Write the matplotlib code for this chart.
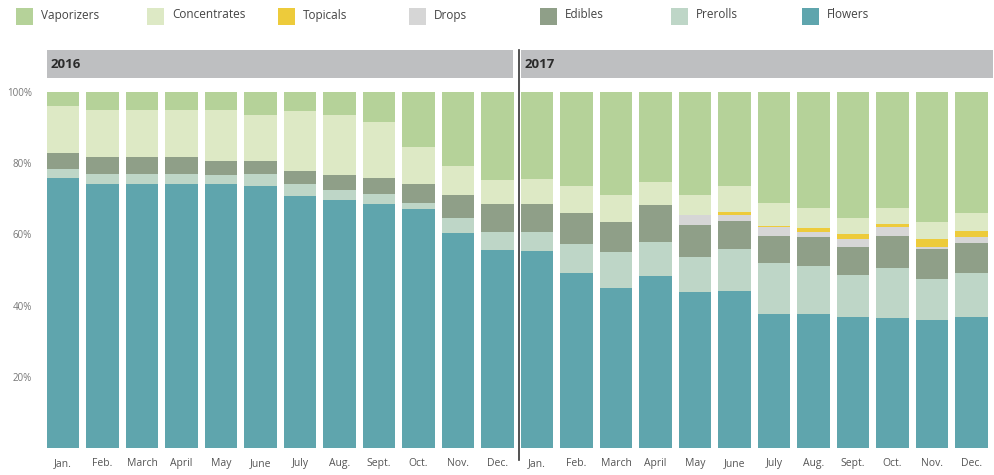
import matplotlib
matplotlib.use("Agg")
import matplotlib.pyplot as plt
from matplotlib.patches import Rectangle
import numpy as np

plt.rcParams['font.family'] = ['Open Sans', 'DejaVu Sans']

months = ["Jan.", "Feb.", "March", "April", "May", "June", "July", "Aug.",
          "Sept.", "Oct.", "Nov.", "Dec."]
labels = months + months
years = ["2016", "2017"]

# share of sales per month (%), 2016 then 2017
flowers = [75.9, 74.3, 74.3, 74.3, 74.2, 73.6, 70.9, 69.7, 68.5, 67.1, 60.3, 55.6,
           55.4, 49.1, 44.9, 48.4, 43.9, 44.2, 37.6, 37.6, 36.9, 36.4, 36.0, 36.9]
prerolls = [2.5, 2.6, 2.6, 2.6, 2.5, 3.3, 3.2, 2.8, 2.8, 1.6, 4.4, 5.2,
            5.2, 8.2, 10.2, 9.5, 9.8, 11.7, 14.3, 13.5, 11.7, 14.1, 11.4, 12.2]
edibles = [4.5, 4.8, 4.8, 4.8, 3.9, 3.7, 3.7, 4.2, 4.6, 5.4, 6.4, 7.7,
           7.9, 8.6, 8.5, 10.4, 8.9, 7.9, 7.7, 8.1, 7.9, 9.1, 8.4, 8.6]
drops = [0, 0, 0, 0, 0, 0, 0, 0, 0, 0, 0, 0,
         0, 0, 0, 0, 2.8, 1.6, 2.6, 1.6, 2.1, 2.6, 0.7, 1.7]
topicals = [0, 0, 0, 0, 0, 0, 0, 0, 0, 0, 0, 0,
            0, 0, 0, 0, 0, 1.0, 0.2, 1.1, 1.4, 0.7, 2.1, 1.5]
concentrates = [13.3, 13.2, 13.2, 13.2, 14.3, 12.9, 16.9, 16.8, 15.6, 10.5, 8.1, 6.8,
                7.0, 7.7, 7.5, 6.5, 5.7, 7.2, 6.3, 5.4, 4.5, 4.4, 5.0, 5.2]
vaporizers = [3.8, 5.1, 5.1, 5.1, 5.1, 6.5, 5.3, 6.5, 8.5, 15.4, 20.8, 24.7,
              24.5, 26.4, 28.9, 25.2, 28.9, 26.4, 31.3, 32.7, 35.5, 32.7, 36.4, 33.9]

# bottom to top
series = [("Flowers", flowers, "#5fa5ad"),
          ("Prerolls", prerolls, "#bed6c7"),
          ("Edibles", edibles, "#8f9f88"),
          ("Drops", drops, "#d6d6d6"),
          ("Topicals", topicals, "#edcb3b"),
          ("Concentrates", concentrates, "#dde9c5"),
          ("Vaporizers", vaporizers, "#b5d299")]
legend_order = ["Vaporizers", "Concentrates", "Topicals", "Drops",
                "Edibles", "Prerolls", "Flowers"]

fig = plt.figure(figsize=(9.95, 4.75), dpi=100)
ax = fig.add_axes([0.0435, 0.0568, 0.9528, 0.7495])

x = np.arange(len(labels))
bottom = np.zeros(len(labels))
for name, vals, col in series:
    vals = np.array(vals, dtype=float)
    ax.bar(x, vals, bottom=bottom, width=0.82, color=col, linewidth=0)
    bottom += vals

ax.set_xlim(-0.5, len(labels) - 0.5)
ax.set_ylim(0, 100)
ax.set_xticks(x)
ax.set_xticklabels(labels, fontsize=7.5, color="#555555")
ax.set_yticks([20, 40, 60, 80, 100])
ax.set_yticklabels(["20%", "40%", "60%", "80%", "100%"], fontsize=7, color="#777777")
ax.tick_params(length=0, pad=7)
ax.tick_params(axis="y", pad=8)
for s in ax.spines.values():
    s.set_visible(False)

# year header bands
split = len(months) - 0.5
bands = [(-0.4, split - 0.1), (split + 0.1, len(labels) - 0.45)]
for (x0, x1), yr in zip(bands, years):
    ax.add_patch(Rectangle((x0, 103.9), x1 - x0, 7.9, color="#bebfc1",
                           clip_on=False, linewidth=0))
    ax.text(x0 + 0.08, 107.85, yr, fontsize=9.5, fontweight="bold", color="#2b2b2b",
            va="center", ha="left")
ax.plot([split + 0.04, split + 0.04], [-3.4, 111.8], color="#333333", lw=1.2,
        clip_on=False)

# legend along the top
colors = {name: col for name, vals, col in series}
for i, name in enumerate(legend_order):
    px = 16 + i * 131
    fig.add_artist(Rectangle((px / 995, 1 - 25 / 475), 17 / 995, 17 / 475,
                             color=colors[name], linewidth=0))
    fig.text((px + 25) / 995, 1 - 15 / 475, name, fontsize=8.5, color="#444444",
             va="center", ha="left")

fig.savefig("out.png", dpi=100)
